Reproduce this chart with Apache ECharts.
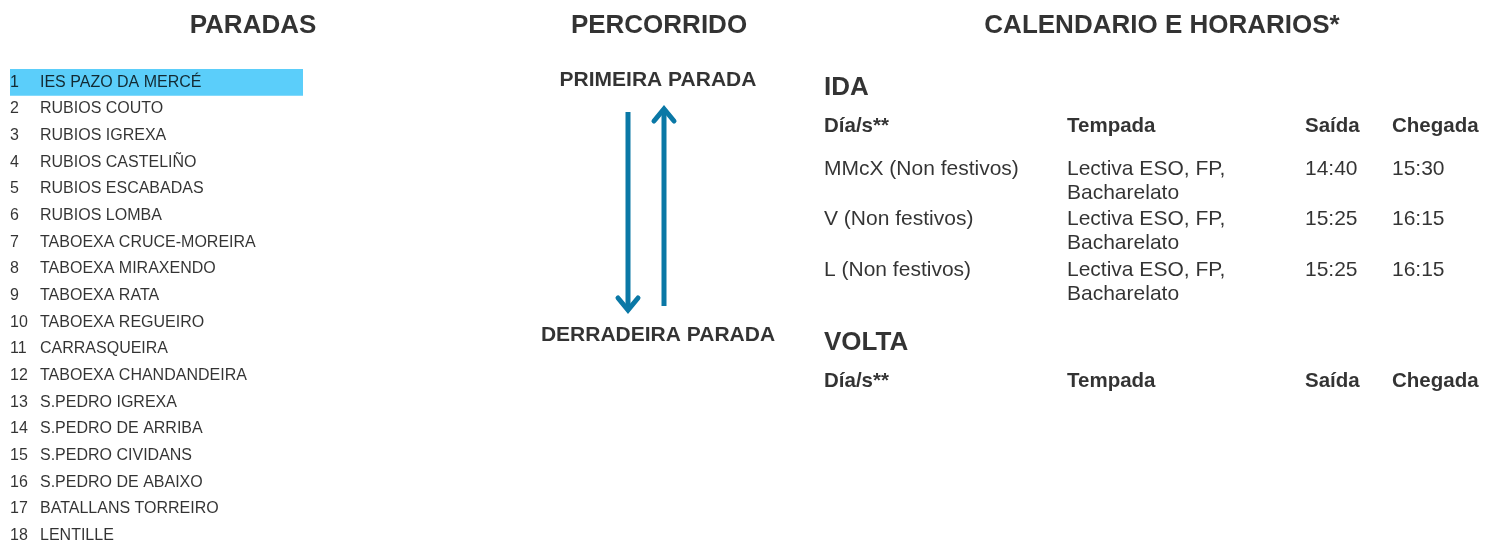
<!DOCTYPE html>
<html><head><meta charset="utf-8">
<script src="https://cdn.jsdelivr.net/npm/echarts@6/dist/echarts.min.js"></script>
<style>html,body{margin:0;padding:0;background:#fff}#c{width:1485px;height:542px}</style>
</head><body><div id="c"></div>
<script>
// ---------- DATA ----------
const sectionTitles = ['PARADAS', 'PERCORRIDO', 'CALENDARIO E HORARIOS*'];
const stopNumbers = [1, 2, 3, 4, 5, 6, 7, 8, 9, 10, 11, 12, 13, 14, 15, 16, 17, 18];
const stopNames = ['IES PAZO DA MERCÉ', 'RUBIOS COUTO', 'RUBIOS IGREXA', 'RUBIOS CASTELIÑO',
  'RUBIOS ESCABADAS', 'RUBIOS LOMBA', 'TABOEXA CRUCE-MOREIRA', 'TABOEXA MIRAXENDO',
  'TABOEXA RATA', 'TABOEXA REGUEIRO', 'CARRASQUEIRA', 'TABOEXA CHANDANDEIRA',
  'S.PEDRO IGREXA', 'S.PEDRO DE ARRIBA', 'S.PEDRO CIVIDANS', 'S.PEDRO DE ABAIXO',
  'BATALLANS TORREIRO', 'LENTILLE'];
const highlightedStop = 1;
const routeEnds = ['PRIMEIRA PARADA', 'DERRADEIRA PARADA'];
const scheduleSections = ['IDA', 'VOLTA'];
const scheduleHeaders = ['Día/s**', 'Tempada', 'Saída', 'Chegada'];
const idaDays = ['MMcX (Non festivos)', 'V (Non festivos)', 'L (Non festivos)'];
const idaSeason = ['Lectiva ESO, FP,\nBacharelato', 'Lectiva ESO, FP,\nBacharelato', 'Lectiva ESO, FP,\nBacharelato'];
const idaDeparture = ['14:40', '15:25', '15:25'];
const idaArrival = ['15:30', '16:15', '16:15'];
const voltaDays = [];
const voltaSeason = [];
const voltaDeparture = [];
const voltaArrival = [];

// ---------- LAYOUT ----------
const FONT = '"Liberation Sans", Arial, Helvetica, sans-serif';
const W = 1485, H = 542;
const titleY = 26, titleX = [253, 659, 1162], titleSize = 26;
const stopBox = { left: 10, top: 69, width: 293, rowH: 26.67 };
const stopNameX = 30, stopSize = 16;
const routeX = 658, routeY = [80, 335], routeSize = 21;
const arrowColor = '#0a78a6';
const arrowDown = { x: 628, from: 112, to: 310 };
const arrowUp = { x: 664, from: 306, to: 109 };
const schedX = [824, 1067, 1305, 1392];
const sectionY = [88, 343], sectionSize = 26;
const headerOffset = 38, headerSize = 20.5, rowStart = 81, rowStep = 50.5, lineStep = 24, tableSize = 21;

function txt(x, y, text, size, bold, align) {
  return {
    value: [x, y],
    label: {
      show: true, position: 'inside', formatter: () => text,
      fontFamily: FONT, fontSize: size, fontWeight: bold ? 'bold' : 'normal',
      color: '#000', align: align || 'left', verticalAlign: 'middle'
    }
  };
}

const texts = [];
sectionTitles.forEach((t, i) => texts.push(txt(titleX[i], titleY, t, titleSize, true, 'center')));
routeEnds.forEach((t, i) => texts.push(txt(routeX, routeY[i], t, routeSize, true, 'center')));

const sections = [
  { days: idaDays, season: idaSeason, dep: idaDeparture, arr: idaArrival },
  { days: voltaDays, season: voltaSeason, dep: voltaDeparture, arr: voltaArrival }
];
sections.forEach((s, si) => {
  const y0 = sectionY[si];
  texts.push(txt(schedX[0], y0, scheduleSections[si], sectionSize, true));
  scheduleHeaders.forEach((h, ci) => texts.push(txt(schedX[ci], y0 + headerOffset, h, headerSize, true)));
  s.days.forEach((d, ri) => {
    const y = y0 + rowStart + ri * rowStep;
    const cells = [d, s.season[ri], s.dep[ri], s.arr[ri]];
    cells.forEach((c, ci) => {
      String(c).split('\n').forEach((line, li) => texts.push(txt(schedX[ci], y + li * lineStep, line, tableSize, false)));
    });
  });
});

const chart = echarts.init(document.getElementById('c'), null, { renderer: 'canvas' });
const hiddenAxis = { show: false };
chart.setOption({
  animation: false,
  backgroundColor: '#fff',
  grid: [
    { left: 0, top: 0, width: W, height: H, outerBoundsMode: 'none', containLabel: false },
    { left: stopBox.left, top: stopBox.top, width: stopBox.width, height: stopBox.rowH * stopNames.length,
      outerBoundsMode: 'none', containLabel: false }
  ],
  xAxis: [
    Object.assign({ type: 'value', min: 0, max: W, gridIndex: 0 }, hiddenAxis),
    Object.assign({ type: 'value', min: 0, max: stopBox.width, gridIndex: 1 }, hiddenAxis)
  ],
  yAxis: [
    Object.assign({ type: 'value', min: 0, max: H, inverse: true, gridIndex: 0 }, hiddenAxis),
    Object.assign({ type: 'category', data: stopNames, inverse: true, gridIndex: 1 }, hiddenAxis)
  ],
  series: [
    {
      type: 'bar', xAxisIndex: 1, yAxisIndex: 1, silent: true,
      barWidth: '100%', barCategoryGap: 0,
      itemStyle: { color: '#5bcefa' },
      data: stopNames.map((n, i) => stopNumbers[i] === highlightedStop ? stopBox.width : '-')
    },
    {
      type: 'scatter', xAxisIndex: 1, yAxisIndex: 1, silent: true, symbolSize: 1,
      itemStyle: { color: 'rgba(0,0,0,0)' },
      data: stopNames.map((n, i) => ({
        value: [0, n],
        label: { show: true, position: 'inside', formatter: String(stopNumbers[i]), fontFamily: FONT,
          fontSize: stopSize, color: '#000', align: 'left', verticalAlign: 'middle' }
      }))
    },
    {
      type: 'scatter', xAxisIndex: 1, yAxisIndex: 1, silent: true, symbolSize: 1,
      itemStyle: { color: 'rgba(0,0,0,0)' },
      data: stopNames.map((n) => ({
        value: [stopNameX, n],
        label: { show: true, position: 'inside', formatter: n, fontFamily: FONT,
          fontSize: stopSize, color: '#000', align: 'left', verticalAlign: 'middle' }
      }))
    },
    {
      type: 'scatter', xAxisIndex: 0, yAxisIndex: 0, silent: true, symbolSize: 1,
      itemStyle: { color: 'rgba(0,0,0,0)' },
      data: texts
    },
    {
      type: 'custom', xAxisIndex: 0, yAxisIndex: 0, silent: true,
      data: [[arrowDown.x, arrowDown.from, arrowDown.to], [arrowUp.x, arrowUp.from, arrowUp.to]],
      renderItem: function (params, api) {
        const a = api.coord([api.value(0), api.value(1)]);
        const b = api.coord([api.value(0), api.value(2)]);
        const dir = b[1] > a[1] ? 1 : -1;
        const hw = 10, hh = 12;
        return {
          type: 'group',
          children: [
            { type: 'line', shape: { x1: a[0], y1: a[1], x2: b[0], y2: b[1] - dir * 2 },
              style: { stroke: arrowColor, lineWidth: 5 } },
            { type: 'polyline', shape: { points: [[b[0] - hw, b[1] - dir * hh], [b[0], b[1]], [b[0] + hw, b[1] - dir * hh]] },
              style: { stroke: arrowColor, lineWidth: 5, fill: null, lineCap: 'round', lineJoin: 'miter' } }
          ]
        };
      }
    }
  ]
});
</script>
</body></html>
